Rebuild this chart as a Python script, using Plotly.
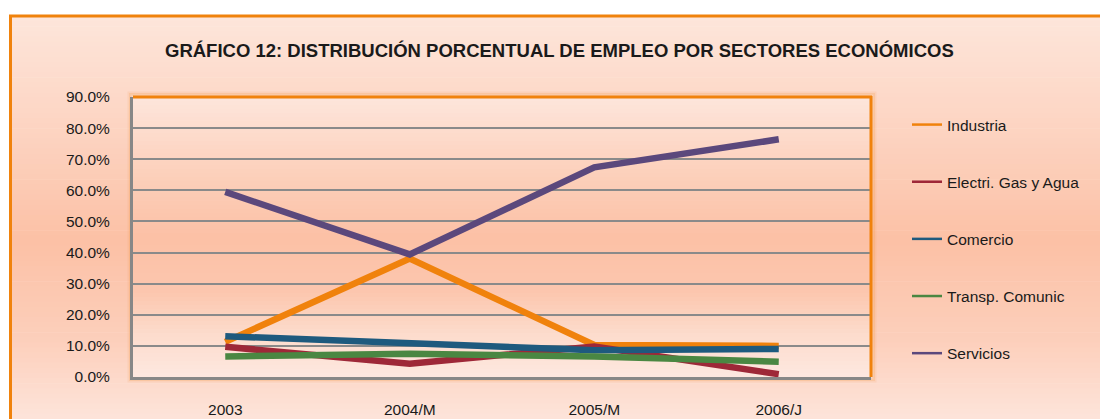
import plotly.graph_objects as go

categories = ["2003", "2004/M", "2005/M", "2006/J"]
industria = [0.113, 0.381, 0.103, 0.100]
electri = [0.097, 0.043, 0.098, 0.009]
comercio = [0.131, 0.107, 0.086, 0.090]
transp = [0.066, 0.075, 0.066, 0.049]
servicios = [0.595, 0.394, 0.674, 0.764]

series_names = ["Industria", "Electri. Gas y Agua", "Comercio", "Transp. Comunic", "Servicios"]
series_values = [industria, electri, comercio, transp, servicios]
series_colors = ["#F0820C", "#9E2838", "#1E5A7E", "#4A8742", "#5B487C"]

y_ticks = [0.0, 0.1, 0.2, 0.3, 0.4, 0.5, 0.6, 0.7, 0.8, 0.9]

title_text = "GRÁFICO 12: DISTRIBUCIÓN PORCENTUAL DE EMPLEO POR SECTORES ECONÓMICOS"

W, H = 1100, 419
FONT = "Liberation Sans Narrow, Arial Narrow, Liberation Sans, Arial, sans-serif"

# plot area in pixels
PX0, PX1, PY0, PY1 = 133, 871, 97, 377


def fx(px):
    return px / W


def fy(py):
    return 1 - py / H


def hex2rgb(h):
    h = h.lstrip("#")
    return tuple(int(h[i:i + 2], 16) for i in (0, 2, 4))


def interp(stops, t):
    for (t0, c0), (t1, c1) in zip(stops[:-1], stops[1:]):
        if t0 <= t <= t1:
            a = (t - t0) / (t1 - t0) if t1 > t0 else 0
            r0, g0, b0 = hex2rgb(c0)
            r1, g1, b1 = hex2rgb(c1)
            return "rgb(%d,%d,%d)" % (r0 + (r1 - r0) * a, g0 + (g1 - g0) * a, b0 + (b1 - b0) * a)
    return "rgb(%d,%d,%d)" % hex2rgb(stops[-1][1])


def bands(x0, x1, y0, y1, stops, n=60):
    out = []
    h = (y1 - y0) / n
    for i in range(n):
        ya = y0 + i * h
        yb = ya + h + 0.6
        t = (ya + h / 2 - y0) / (y1 - y0)
        out.append(dict(type="rect", xref="paper", yref="paper",
                        x0=fx(x0), x1=fx(x1), y0=fy(ya), y1=fy(min(yb, y1)),
                        fillcolor=interp(stops, t), line=dict(width=0), layer="below"))
    return out


shapes = []
# outer chart area gradient
shapes += bands(10, W + 5, 16, H + 5,
                [(0, "#FEE6DB"), (0.3, "#FDD3C0"), (0.55, "#FCC1A6"), (0.8, "#FDD0BC"), (1, "#FEE6DD")], 80)
# plot area soft glow
for off, alpha in [(4, 0.10), (2.5, 0.16)]:
    shapes.append(dict(type="rect", xref="paper", yref="paper", x0=fx(PX0 - off), x1=fx(PX1 + off),
                       y0=fy(PY1 + off), y1=fy(PY0 - off),
                       line=dict(color="rgba(245,140,40,%.2f)" % alpha, width=3),
                       fillcolor="rgba(0,0,0,0)", layer="below"))
# plot area gradient
shapes += bands(PX0, PX1, PY0, PY1,
                [(0, "#FEE6DC"), (0.25, "#FDD2BE"), (0.5, "#FCC1A6"), (0.7, "#FCC7AF"), (0.85, "#FDDCCD"), (1, "#FEE8E0")], 70)
# outer orange frame
shapes.append(dict(type="rect", xref="paper", yref="paper", x0=fx(10.5), x1=fx(W + 10),
                   y0=fy(H + 10), y1=fy(16), line=dict(color="#F0820C", width=3),
                   fillcolor="rgba(0,0,0,0)", layer="above"))
# plot area top & right orange border
shapes.append(dict(type="line", xref="paper", yref="paper", x0=fx(PX0), x1=fx(PX1 + 1),
                   y0=fy(PY0), y1=fy(PY0), line=dict(color="#F0820C", width=3), layer="above"))
shapes.append(dict(type="line", xref="paper", yref="paper", x0=fx(PX1), x1=fx(PX1),
                   y0=fy(PY0 - 1), y1=fy(PY1), line=dict(color="#F0820C", width=3), layer="above"))

fig = go.Figure()
for name, vals, col in zip(series_names, series_values, series_colors):
    fig.add_trace(go.Scatter(x=categories, y=vals, mode="lines", name=name,
                             line=dict(color=col, width=6.5), showlegend=False, hoverinfo="skip"))
for i, (name, col) in enumerate(zip(series_names, series_colors)):
    fig.add_trace(go.Scatter(x=[None], y=[None], mode="lines", name=name,
                             line=dict(color=col, width=2.5), legendgroup="g%d" % i, showlegend=True))

fig.update_layout(
    width=W, height=H,
    margin=dict(l=0, r=0, t=0, b=0, autoexpand=False),
    paper_bgcolor="white",
    plot_bgcolor="rgba(0,0,0,0)",
    font=dict(family=FONT, size=15.5, color="#1a1a1a"),
    shapes=shapes,
    annotations=[dict(text="<b>" + title_text + "</b>", xref="paper", yref="paper",
                      x=fx(559), y=fy(50), xanchor="center", yanchor="middle", showarrow=False,
                      font=dict(family=FONT, size=18.5, color="#1a1a1a"))],
    xaxis=dict(domain=[fx(PX0), fx(PX1)], type="category", range=[-0.5, 3.5],
               showgrid=False, showline=True, linecolor="#878787", linewidth=3,
               ticks="", ticklabelstandoff=16, tickfont=dict(size=15.5), zeroline=False,
               fixedrange=True),
    yaxis=dict(domain=[fy(PY1), fy(PY0)], range=[0, 0.9], tickvals=y_ticks, tickformat=".1%",
               showgrid=True, gridcolor="#8A8A8A", gridwidth=2, showline=True,
               linecolor="#878787", linewidth=3, ticks="", ticklabelstandoff=17,
               tickfont=dict(size=15.5), zeroline=False, fixedrange=True),
    legend=dict(x=fx(907), y=fy(108), xanchor="left", yanchor="top",
                bgcolor="rgba(0,0,0,0)", borderwidth=0, tracegroupgap=34,
                font=dict(family=FONT, size=15.5, color="#1a1a1a"), traceorder="grouped"),
    showlegend=True,
)

fig.write_html("out.html", config={"displayModeBar": False},
               post_script="document.body.style.margin='0';")
